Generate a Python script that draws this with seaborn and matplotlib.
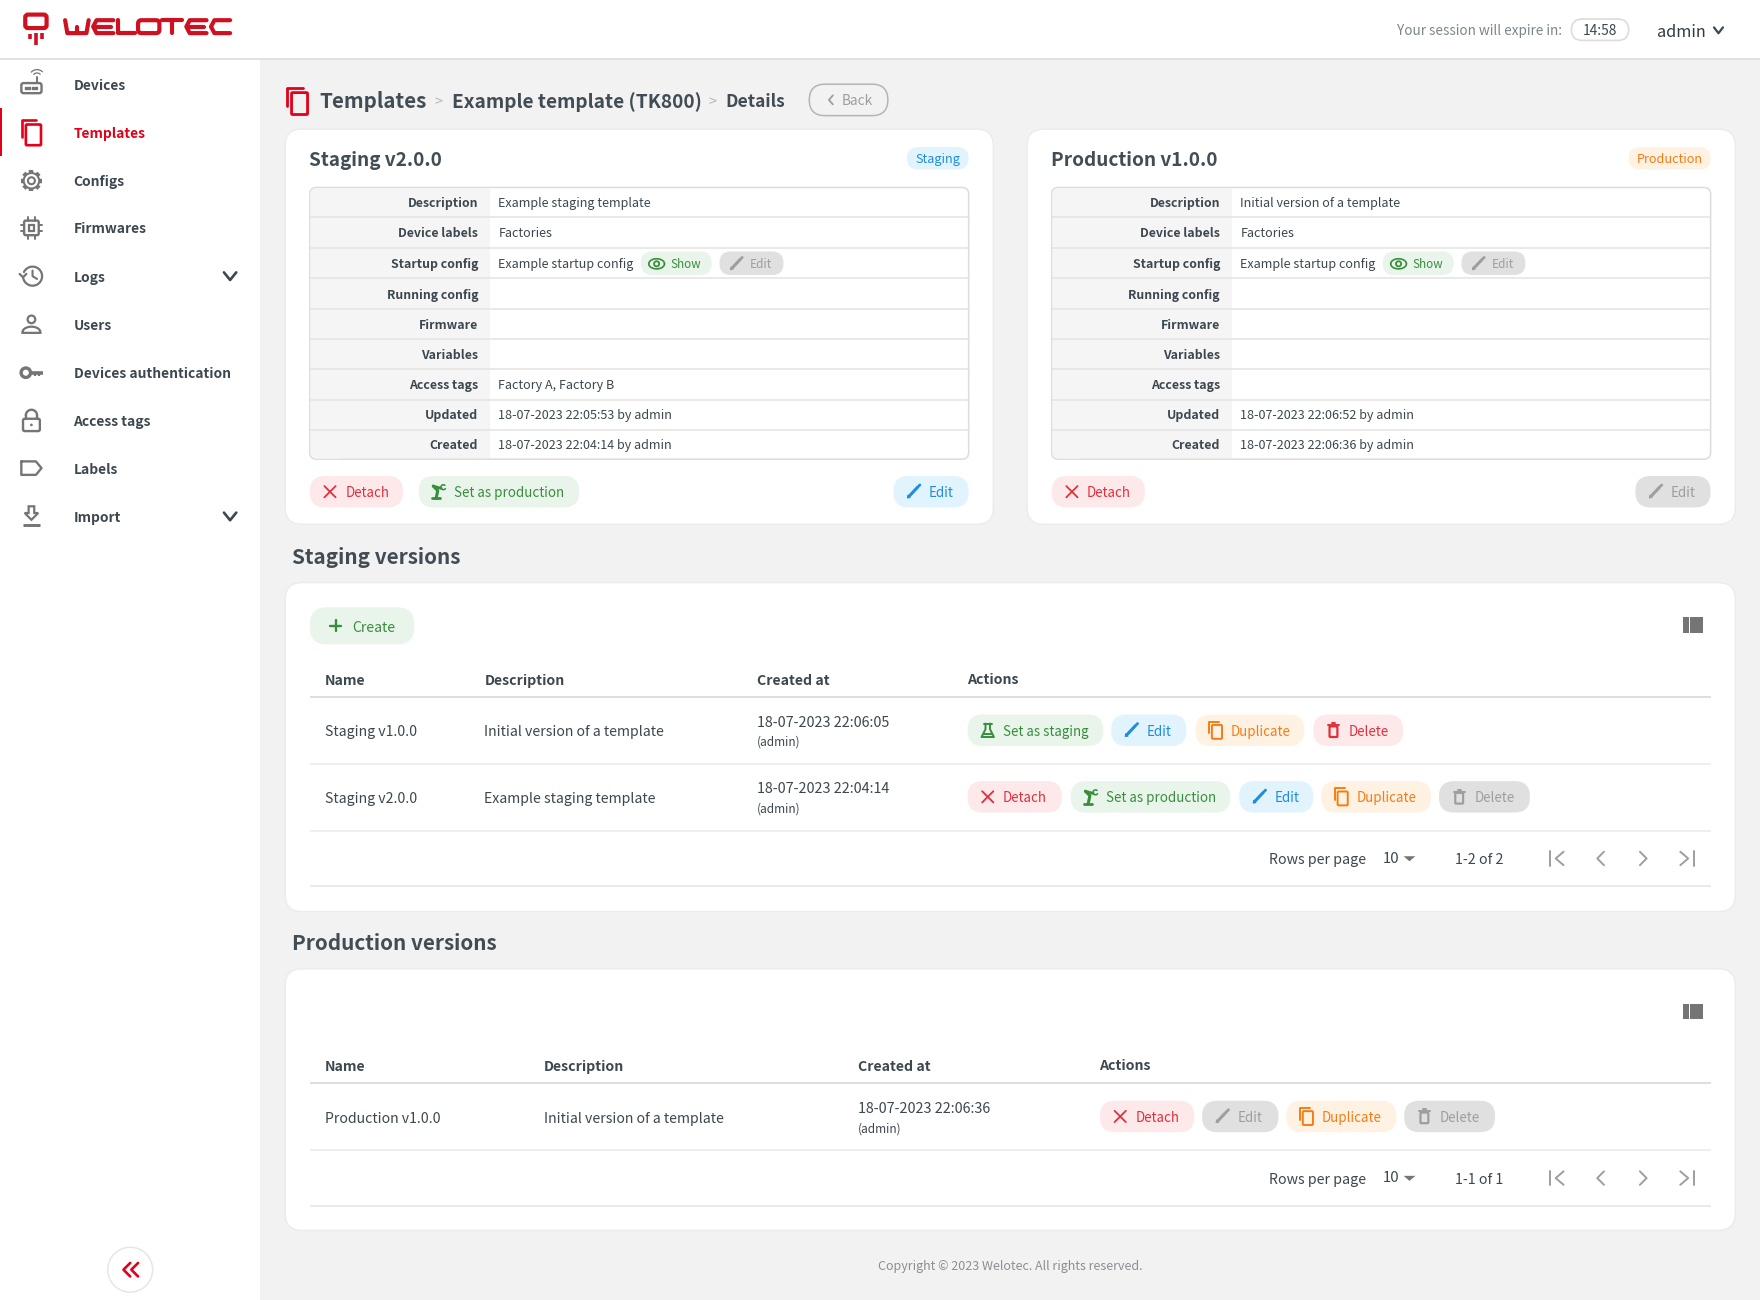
import matplotlib

matplotlib.use("Agg")

import matplotlib.pyplot as plt
import numpy as np
import seaborn as sns
from matplotlib.patches import Circle, FancyBboxPatch, Polygon, Rectangle

sns.set_theme(style="white")
plt.rcParams["font.family"] = ["Noto Sans CJK SC", "DejaVu Sans"]

# texts of the page
nav_items = ["Devices", "Templates", "Configs", "Firmwares", "Logs", "Users",
             "Devices authentication", "Access tags", "Labels", "Import"]
nav_icons = ["router", "copy", "gear", "chip", "history", "user", "key", "lock", "label", "import"]
crumbs = ["Templates", "Example template (TK800)", "Details"]
row_labels = ["Description", "Device labels", "Startup config", "Running config", "Firmware",
              "Variables", "Access tags", "Updated", "Created"]
staging_values = ["Example staging template", "Factories", "Example startup config", "", "", "",
                  "Factory A, Factory B", "18-07-2023 22:05:53 by admin", "18-07-2023 22:04:14 by admin"]
production_values = ["Initial version of a template", "Factories", "Example startup config", "", "", "",
                     "", "18-07-2023 22:06:52 by admin", "18-07-2023 22:06:36 by admin"]
table_headers = ["Name", "Description", "Created at", "Actions"]
staging_rows = [["Staging v1.0.0", "Initial version of a template", "18-07-2023 22:06:05"],
                ["Staging v2.0.0", "Example staging template", "18-07-2023 22:04:14"]]
production_rows = [["Production v1.0.0", "Initial version of a template", "18-07-2023 22:06:36"]]
session_time = "14:58"
page_sizes = ["10", "10"]
page_ranges = ["1-2 of 2", "1-1 of 1"]

# colours: (background, foreground)
RED = "#e2001a"
LOGO = "#cf1020"
TEXT = "#3c474f"
HEAD = "#414c54"
SEMI = 600
KINDS = {"red": ("#fde9ea", "#e0303c"), "green": ("#e9f4ea", "#388e3c"),
         "blue": ("#e1f3fd", "#1f8ddb"), "orange": ("#fff2e3", "#f57c14"),
         "grey": ("#e0e0e0", "#9e9e9e")}

S = 1760 / 1568  # the layout below is in 1568 wide units
fig = plt.figure(figsize=(17.6, 13.0), dpi=100, facecolor="#f2f2f2")
ax = fig.add_axes([0, 0, 1, 1])
ax.set_xlim(0, 1568)
ax.set_ylim(1158, 0)
ax.axis("off")


def T(x, y, s, px=11.2, color=TEXT, weight="normal", ha="left"):
    ax.text(x, y, s, fontsize=px * S * 0.72, color=color, fontweight=weight, ha=ha,
            va="center_baseline", zorder=5)


def box(x0, y0, x1, y1, r, fc="white", ec="none", lw=1.0, z=1):
    ax.add_patch(FancyBboxPatch((x0 + r, y0 + r), x1 - x0 - 2 * r, y1 - y0 - 2 * r,
                                boxstyle=f"round,pad={r},rounding_size={r}", fc=fc, ec=ec, lw=lw,
                                mutation_aspect=1, zorder=z))


def L(xs, ys, c, lw=1.4, z=6, cap="round"):
    ax.plot(xs, ys, color=c, lw=lw, zorder=z, solid_capstyle=cap, solid_joinstyle="round")


def hline(x0, x1, y, c="#e6e6e6", lw=1.2, z=3):
    L([x0, x1], [y, y], c, lw, z, "butt")


def icon_copy(x, y, c, k=1.0, lw=1.5):
    # back sheet corner, then front sheet
    L([x - 6 * k, x - 6 * k, x + 3 * k], [y + 3 * k, y - 8 * k, y - 8 * k], c, lw)
    box(x - 3.5 * k, y - 5 * k, x + 6 * k, y + 8 * k, 1, fc="none", ec=c, lw=lw, z=6)


def icon_pencil(x, y, c, k=1.0):
    L([x - 4.5 * k, x + 3.5 * k], [y + 4.5 * k, y - 4 * k], c, 2.2)
    ax.add_patch(Polygon([[x - 6 * k, y + 6 * k], [x - 5.5 * k, y + 2.5 * k], [x - 2.5 * k, y + 5.5 * k]],
                         fc=c, ec="none", zorder=6))
    L([x + 4.5 * k, x + 5.5 * k], [y - 5 * k, y - 6 * k], c, 2.0)


def icon_x(x, y, c):
    L([x - 5, x + 5], [y - 5, y + 5], c, 1.3)
    L([x - 5, x + 5], [y + 5, y - 5], c, 1.3)


def icon_plus(x, y, c):
    L([x - 5, x + 5], [y, y], c, 1.7)
    L([x, x], [y - 5, y + 5], c, 1.7)


def icon_trash(x, y, c):
    box(x - 3.5, y - 3.5, x + 3.5, y + 6, 0.8, fc="none", ec=c, lw=1.6, z=6)
    L([x - 5, x + 5], [y - 4.5, y - 4.5], c, 1.4)
    L([x - 1.5, x + 1.5], [y - 6.5, y - 6.5], c, 1.4)


def icon_flask(x, y, c):
    L([x - 2, x - 2, x - 5.5, x + 5.5, x + 2, x + 2], [y - 6, y - 1, y + 6, y + 6, y - 1, y - 6], c, 1.4)
    L([x - 3.5, x + 3.5], [y - 6, y - 6], c, 1.4)
    L([x - 3.5, x + 3.5], [y + 3, y + 3], c, 1.4)


def icon_robot(x, y, c):
    # small robot arm used on "Set as production"
    L([x - 6, x + 1], [y + 6, y + 6], c, 2.0)
    L([x - 2.5, x - 1, x - 5], [y + 6, y - 1, y - 5], c, 2.2)
    L([x - 5, x + 2], [y - 5, y - 3], c, 2.0)
    t = np.linspace(0.6, 5.4, 20)
    L(x + 4 + 2.2 * np.cos(t), y - 4 + 2.2 * np.sin(t), c, 1.1)


def icon_eye(x, y, c):
    t = np.linspace(0, np.pi, 30)
    L(x + 7 * np.cos(t), y + 4.5 * np.sin(t), c, 1.2)
    L(x + 7 * np.cos(t), y - 4.5 * np.sin(t), c, 1.2)
    ax.add_patch(Circle((x, y), 2.3, fc="none", ec=c, lw=1.3, zorder=6))


BTN_ICONS = {"Detach": icon_x, "Edit": icon_pencil, "Duplicate": lambda x, y, c: icon_copy(x, y, c, 0.95, 1.4),
             "Delete": icon_trash, "Set as staging": icon_flask, "Set as production": icon_robot}


def button(x0, x1, y, label, kind):
    bg, fg = KINDS[kind]
    box(x0, y - 14, x1, y + 14, 13.5, fc=bg, z=2)
    BTN_ICONS[label](x0 + 18, y, fg)
    T(x0 + 31.5, y, label, 11.9, fg)


def nav_icon(name, x, y, c="#757575"):
    if name == "router":
        box(x - 9, y - 1, x + 9, y + 8, 2, fc="none", ec=c, lw=1.7, z=6)
        L([x + 5, x + 5], [y - 1, y - 6], c, 1.4)
        ax.scatter([x - 5, x - 2, x + 1, x + 4], [y + 3.6] * 4, s=3, color=c, marker="s", zorder=6)
        t = np.linspace(-2.4, -0.8, 12)
        L(x + 5 + 4 * np.cos(t), y - 6 + 4 * np.sin(t), c, 0.9)
        L(x + 5 + 7 * np.cos(t), y - 6 + 7 * np.sin(t), c, 0.9)
    elif name == "copy":
        icon_copy(x, y, RED, 1.42, 1.9)
    elif name == "gear":
        for a in np.arange(0, 2 * np.pi, np.pi / 4):
            L([x + 6.5 * np.cos(a), x + 9.5 * np.cos(a)], [y + 6.5 * np.sin(a), y + 9.5 * np.sin(a)], c, 3.2, cap="butt")
        ax.add_patch(Circle((x, y), 6.9, fc="white", ec=c, lw=1.5, zorder=6))
        ax.add_patch(Circle((x, y), 3.1, fc="white", ec=c, lw=1.5, zorder=7))
    elif name == "chip":
        box(x - 6.5, y - 6.5, x + 6.5, y + 6.5, 1.5, fc="none", ec=c, lw=1.7, z=6)
        ax.add_patch(Rectangle((x - 2.5, y - 2.5), 5, 5, fc="none", ec=c, lw=1.6, zorder=6))
        for d in (-3, 3):
            L([x - 9.5, x - 6.5], [y + d, y + d], c, 1.4)
            L([x + 6.5, x + 9.5], [y + d, y + d], c, 1.4)
            L([x + d, x + d], [y - 9.5, y - 6.5], c, 1.4)
            L([x + d, x + d], [y + 6.5, y + 9.5], c, 1.4)
    elif name == "history":
        t = np.linspace(-2.7, 3.0, 40)
        L(x + 1 + 8.5 * np.cos(t), y + 8.5 * np.sin(t), c, 1.6)
        L([x - 10.5, x - 7.5, x - 4.5], [y - 2, y + 1, y - 2], c, 1.6)
        L([x + 1, x + 1, x + 5], [y - 5, y, y + 2.5], c, 1.5)
    elif name == "user":
        ax.add_patch(Circle((x, y - 4.5), 3.4, fc="none", ec=c, lw=1.6, zorder=6))
        t = np.linspace(np.pi, 2 * np.pi, 20)
        ax.fill(np.r_[x + 8 * np.cos(t), x + 8, x - 8], np.r_[y + 7 + 5 * np.sin(t), y + 7.5, y + 7.5],
                fc="none", ec=c, lw=1.6, zorder=6)
    elif name == "key":
        ax.add_patch(Circle((x - 5, y), 4.2, fc="none", ec=c, lw=2.4, zorder=6))
        L([x - 1, x + 10], [y, y], c, 2.6, cap="butt")
        L([x + 3, x + 3], [y, y + 3], c, 1.6, cap="butt")
        L([x + 6.5, x + 6.5], [y, y + 3], c, 1.6, cap="butt")
    elif name == "lock":
        box(x - 7.5, y - 2, x + 7.5, y + 9, 1.5, fc="none", ec=c, lw=1.7, z=6)
        t = np.linspace(np.pi, 2 * np.pi, 20)
        L(x + 5 * np.cos(t), y - 5 + 5 * np.sin(t), c, 1.7)
        L([x - 5, x - 5], [y - 5, y - 2], c, 1.7)
        L([x + 5, x + 5], [y - 5, y - 2], c, 1.7)
        ax.add_patch(Circle((x, y + 3.5), 1.2, fc=c, ec="none", zorder=6))
    elif name == "label":
        L([x - 9, x + 4, x + 9, x + 4, x - 9, x - 9], [y - 6, y - 6, y, y + 6, y + 6, y - 6], c, 1.7)
    elif name == "import":
        ax.add_patch(Polygon([[x - 2.5, y - 9], [x + 2.5, y - 9], [x + 2.5, y - 3], [x + 6, y - 3], [x, y + 3],
                              [x - 6, y - 3], [x - 2.5, y - 3]], fc="none", ec=c, lw=1.6, zorder=6))
        L([x - 7.5, x + 7.5], [y + 7.5, y + 7.5], c, 2.1, cap="butt")


def chevron(x, y, c=TEXT, w=5, h=3.2, lw=1.8):
    L([x - w, x, x + w], [y - h, y + h, y - h], c, lw)


def draw_logo():
    # outline icon and wordmark
    box(22.5, 13, 41.5, 25, 2.5, fc="none", ec=LOGO, lw=3.0, z=6)
    L([27, 27], [30, 35], LOGO, 2.6, cap="butt")
    L([32, 32], [29, 40], LOGO, 2.6, cap="butt")
    L([37, 37], [29, 35], LOGO, 2.6, cap="butt")
    top, bot = 18, 29.5
    mid = (top + bot) / 2
    lw = 3.0
    L([58, 60, 77, 79], [top, bot, bot, top], LOGO, lw)
    L([68.5, 68.5], [mid, bot], LOGO, lw)
    for x0, x1 in ((83, 101), (166, 184)):
        L([x1, x0 + 3, x0, x0 + 3, x1], [top, top, mid, bot, bot], LOGO, lw)
        L([x0 + 2, x1 - 2], [mid, mid], LOGO, lw)
    L([105, 105, 120], [top, bot, bot], LOGO, lw)
    box(123, top, 142, bot, 3, fc="none", ec=LOGO, lw=lw, z=6)
    L([144, 162], [top, top], LOGO, lw)
    L([153, 153], [top, bot], LOGO, lw)
    L([205, 191, 188, 191, 205], [top, top, mid, bot, bot], LOGO, lw)


def draw_details(x0, title, badge, kind, values, buttons):
    box(x0, 115, x0 + 631, 467, 15, fc="white", ec="#ebebeb", lw=1.0)
    T(x0 + 21.5, 141, title, 16.9, HEAD, SEMI)
    bg, fg = KINDS[kind]
    bw = 55 if kind == "blue" else 73
    box(x0 + 609 - bw, 131, x0 + 609, 151, 10, fc=bg, z=2)
    T(x0 + 609 - bw / 2, 141, badge, 11.3, fg, ha="center")
    # table with labels on the left
    tx0, tx1 = x0 + 22, x0 + 609
    box(tx0, 167, tx1, 409, 6, fc="white", ec="#dcdcdc", lw=1.1, z=2)
    box(tx0 + 0.5, 167.5, tx0 + 30, 408.5, 6, fc="#f5f5f5", z=2)
    ax.add_patch(Rectangle((tx0 + 10, 167.7), 150.5, 240.6, fc="#f5f5f5", ec="none", zorder=2))
    rows_y = [180, 207, 234, 262, 289, 315.5, 342.5, 369, 395.5]
    for y in [193.5, 220.5, 248, 275, 302, 329, 356, 383]:
        hline(tx0, tx1, y, "#e3e3e3", 1.1)
    for y, lab, val in zip(rows_y, row_labels, values):
        T(tx0 + 150, y, lab, 11.0, TEXT, SEMI, "right")
        T(tx0 + 168, y, val, 11.2)
    # show / edit pills of the startup config row
    sx = tx0 + 295
    box(sx, 224, sx + 63, 245, 10, fc=KINDS["green"][0], z=3)
    icon_eye(sx + 14, 235, KINDS["green"][1])
    T(sx + 26, 234, "Show", 10.4, KINDS["green"][1])
    box(sx + 70, 224, sx + 127, 245, 10, fc=KINDS["grey"][0], z=3)
    icon_pencil(sx + 85, 235, KINDS["grey"][1], 0.95)
    T(sx + 97, 234, "Edit", 10.6, KINDS["grey"][1])
    for b0, b1, label, k in buttons:
        button(x0 + b0, x0 + b1, 438, label, k)


def draw_table(top, bottom, title, col_x, rows, actions, size, page_range):
    T(260.5, top - 24, title, 18.45, HEAD, SEMI)
    box(254, top, 1546, bottom, 15, fc="white", ec="#ebebeb", lw=1.0)
    # column chooser icon
    y_icon = top + 38
    for i in range(3):
        ax.add_patch(Rectangle((1499 + i * 6.2, y_icon - 7), 5.4, 14, fc="#757575", ec="none", zorder=5))
    head_y = top + 86
    for j, (x, h) in enumerate(zip(col_x, table_headers)):
        T(x - 0.5, head_y - (1 if j == 3 else 0), h, 12.6, TEXT, SEMI)
    hline(276, 1524, head_y + 16, "#dedede", 1.4)
    y = head_y + 46
    for row, acts in zip(rows, actions):
        T(col_x[0] - 0.5, y, row[0], 12.6)
        T(col_x[1] - 0.5, y, row[1], 12.6)
        T(col_x[2] - 0.5, y - 8.5, row[2], 12.8)
        T(col_x[2] - 0.5, y + 9, "(admin)", 10.6)
        for b0, b1, label, k in acts:
            button(b0, b1, y - 0.5, label, k)
        hline(276, 1524, y + 29.5, "#ebebeb", 1.2)
        y += 59.3
    py = y - 4.9
    T(1131, py, "Rows per page", 12.7)
    T(1232, py - 1, size, 13.3)
    ax.add_patch(Polygon([[1250.5, py - 2], [1261, py - 2], [1255.7, py + 2.5]], fc="#757575", ec="none", zorder=6))
    T(1296, py, page_range, 12.7)
    c = "#9e9e9e"
    L([1381, 1381], [py - 6.5, py + 6.5], c, 1.4)
    L([1393, 1386, 1393], [py - 6, py, py + 6], c, 1.4)
    L([1429, 1423, 1429], [py - 6, py, py + 6], c, 1.4)
    L([1461, 1467, 1461], [py - 6, py, py + 6], c, 1.4)
    L([1497, 1504, 1497], [py - 6, py, py + 6], c, 1.4)
    L([1509, 1509], [py - 6.5, py + 6.5], c, 1.4)
    hline(276, 1524, py + 24.5, "#e6e6e6", 1.2)


# top bar and sidebar
ax.add_patch(Rectangle((0, 53), 232, 1105, fc="white", ec="none", zorder=1))
ax.add_patch(Rectangle((0, 0), 1568, 53, fc="white", ec="none", zorder=1))
hline(0, 1568, 53, "#e2e2e2", 1.4)
draw_logo()

nav_y = [75, 118, 161, 203, 246, 289, 332, 375, 417, 460]
for y, label, icon in zip(nav_y, nav_items, nav_icons):
    T(65.5, y, label, 12.3, RED if label == "Templates" else TEXT, SEMI)
    nav_icon(icon, 28, y)
    if label in ("Logs", "Import"):
        chevron(205, y, TEXT, 5.5, 3.4, 1.9)
ax.add_patch(Rectangle((0, 96), 2, 43, fc=RED, ec="none", zorder=5))

ax.add_patch(Circle((116, 1131), 20, fc="white", ec="#e6e6e6", lw=1.1, zorder=3))
for dx in (0, 7):
    L([116 + dx, 110 + dx, 116 + dx], [1125, 1131, 1137], RED, 1.9)

# session info
T(1392, 26, "Your session will expire in:", 12.1, "#7d858b", ha="right")
box(1400, 17, 1451, 36, 9.5, fc="white", ec="#dcdcdc", lw=1.2, z=2)
T(1425.5, 26, session_time, 12.3, TEXT, ha="center")
T(1476, 27, "admin", 14.5, "#2f3a42")
chevron(1531, 27, TEXT, 4, 2.6, 1.6)

# breadcrumb
icon_copy(265, 90, RED, 1.5, 2.0)
T(284.5, 89, crumbs[0], 18.25, HEAD, SEMI)
T(391, 90, ">", 13, "#b5b5b5", ha="center")
T(403, 89, crumbs[1], 17.0, HEAD, SEMI)
T(635, 90, ">", 13, "#b5b5b5", ha="center")
T(646.5, 89, crumbs[2], 15.5, HEAD, SEMI)
box(721, 75, 791, 103, 14, fc="none", ec="#b5b5b5", lw=1.1, z=2)
L([742, 738.5, 742], [85, 89, 93], "#9e9e9e", 1.3)
T(750, 89, "Back", 12.2, "#9e9e9e")

# version cards
draw_details(254, "Staging v2.0.0", "Staging", "blue", staging_values,
             [(22, 105, "Detach", "red"), (119, 262, "Set as production", "green"), (542, 609, "Edit", "blue")])
draw_details(915, "Production v1.0.0", "Production", "orange", production_values,
             [(22, 105, "Detach", "red"), (542, 609, "Edit", "grey")])

# version tables
draw_table(519, 812, "Staging versions", [290, 432, 675, 862], staging_rows,
           [[(862, 983, "Set as staging", "green"), (990, 1057, "Edit", "blue"),
             (1065, 1162, "Duplicate", "orange"), (1170, 1250, "Delete", "red")],
            [(862, 946, "Detach", "red"), (954, 1096, "Set as production", "green"), (1104, 1170, "Edit", "blue"),
             (1177, 1275, "Duplicate", "orange"), (1282, 1363, "Delete", "grey")]],
           page_sizes[0], page_ranges[0])
box(276, 541, 369, 574, 15, fc=KINDS["green"][0], z=2)
icon_plus(299, 557.5, KINDS["green"][1])
T(314, 558, "Create", 12.5, KINDS["green"][1])

draw_table(863, 1096, "Production versions", [290, 485, 765, 980], production_rows,
           [[(980, 1064, "Detach", "red"), (1071, 1139, "Edit", "grey"),
             (1146, 1244, "Duplicate", "orange"), (1251, 1332, "Delete", "grey")]],
           page_sizes[1], page_ranges[1])

T(900, 1127, "Copyright © 2023 Welotec. All rights reserved.", 11.15, "#8a8f93", ha="center")

fig.savefig("out.png", dpi=100, facecolor=fig.get_facecolor())
